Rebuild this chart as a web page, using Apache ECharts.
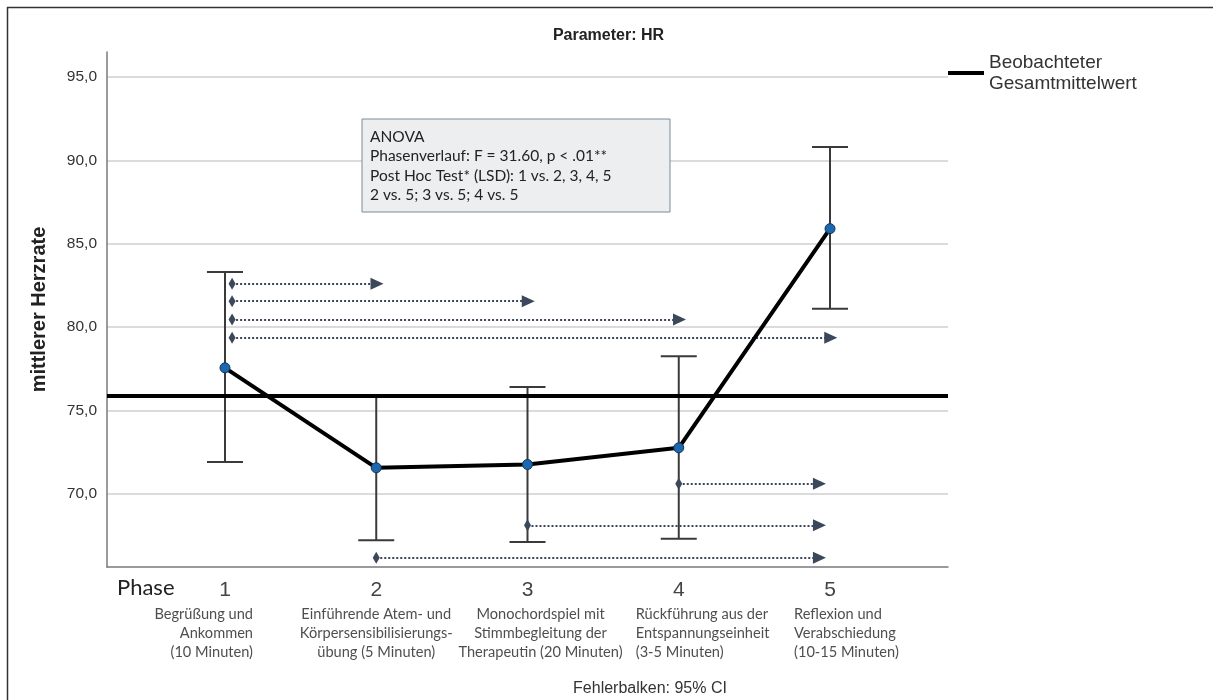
<!DOCTYPE html>
<html>
<head>
<meta charset="utf-8">
<script src="https://cdn.jsdelivr.net/npm/echarts@6/dist/echarts.min.js"></script>
<style>
html,body{margin:0;padding:0;background:#fff;}
#chart{width:1217px;height:700px;}
</style>
</head>
<body>
<div id="chart"></div>
<script>
// ---- data ----
const phases = [1, 2, 3, 4, 5];
const phaseDescriptions = [
  'Begrüßung und\nAnkommen\n(10 Minuten)',
  'Einführende Atem- und\nKörpersensibilisierungs-\nübung (5 Minuten)',
  'Monochordspiel mit\nStimmbegleitung der\nTherapeutin (20 Minuten)',
  'Rückführung aus der\nEntspannungseinheit\n(3-5 Minuten)',
  'Reflexion und\nVerabschiedung\n(10-15 Minuten)'
];
const means = [77.55, 71.55, 71.75, 72.75, 85.9];
const ciLower = [71.9, 67.2, 67.1, 67.3, 81.1];
const ciUpper = [83.3, 75.9, 76.4, 78.25, 90.8];
const grandMean = 75.9;
const yTicks = [70, 75, 80, 85, 90, 95];
const arrowFrom = [1, 1, 1, 1, 4, 3, 2];
const arrowTo = [2, 3, 4, 5, 5, 5, 5];
const arrowY = [82.6, 81.55, 80.45, 79.35, 70.6, 68.1, 66.15];
const annotationLines = [
  'ANOVA',
  'Phasenverlauf: F = 31.60, p < .01**',
  'Post Hoc Test* (LSD): 1 vs. 2, 3, 4, 5',
  '2 vs. 5; 3 vs. 5; 4 vs. 5'
];

// ---- layout/style helpers ----
const xMin = 0.22, xMax = 5.78, yMin = 65.6, yMax = 96.5;
const descAlign = ['right', 'center', 'center', 'left', 'left'];
const descOffset = [28, 0, 13, -43, -36];
const arrowColor = '#3b475a';

const chart = echarts.init(document.getElementById('chart'));

const arrowLines = arrowFrom.map((f, i) => {
  const upper = f === 1;
  return [
    { coord: [f + (upper ? 0.047 : 0), arrowY[i]], symbol: 'diamond', symbolSize: [12, 7] },
    { coord: [arrowTo[i] + (upper ? 0.005 : -0.07), arrowY[i]], symbol: 'triangle', symbolSize: [12, 13] }
  ];
});

const option = {
  animation: false,
  backgroundColor: '#fff',
  title: {
    text: 'Parameter: HR',
    left: 'center',
    top: 23,
    textStyle: { fontFamily: 'Liberation Sans', fontSize: 16, fontWeight: 'bold', color: '#222' }
  },
  legend: {
    data: ['Beobachteter Gesamtmittelwert'],
    left: 943,
    top: 47,
    icon: 'rect',
    itemWidth: 36,
    itemHeight: 4,
    itemGap: 5,
    formatter: () => 'Beobachteter\nGesamtmittelwert',
    textStyle: { fontFamily: 'Liberation Sans', fontSize: 19, color: '#333', lineHeight: 21 }
  },
  grid: { left: 107, right: 269, top: 52, bottom: 133 },
  xAxis: {
    type: 'value',
    min: xMin,
    max: xMax,
    axisLine: { show: true, lineStyle: { color: '#7a7a7a', width: 1.5 } },
    axisTick: { show: false, customValues: phases },
    splitLine: { show: false },
    axisLabel: {
      customValues: phases,
      formatter: v => String(v),
      fontFamily: 'Liberation Sans',
      fontSize: 21,
      color: '#444',
      margin: 13
    }
  },
  yAxis: {
    type: 'value',
    min: yMin,
    max: yMax,
    name: 'mittlerer Herzrate',
    nameLocation: 'middle',
    nameRotate: 90,
    nameGap: 58,
    nameTextStyle: { fontFamily: 'Liberation Sans', fontSize: 20, fontWeight: 'bold', color: '#222' },
    axisLine: { show: true, lineStyle: { color: '#7a7a7a', width: 1.5 } },
    axisTick: { show: false, customValues: yTicks },
    splitLine: { show: true, lineStyle: { color: '#cfcfcf', width: 1.5 } },
    axisLabel: {
      customValues: yTicks,
      formatter: v => v.toFixed(1).replace('.', ','),
      fontFamily: 'Liberation Sans',
      fontSize: 15.5,
      color: '#333',
      margin: 10
    }
  },
  series: [
    {
      name: 'Beobachteter Gesamtmittelwert',
      type: 'line',
      data: [],
      color: '#000',
      z: 5,
      markLine: {
        silent: true,
        z: 5,
        symbol: 'none',
        label: { show: false },
        lineStyle: { color: '#000', width: 4, type: 'solid' },
        data: [{ yAxis: grandMean }]
      }
    },
    {
      name: 'Vergleiche',
      type: 'line',
      data: [],
      z: 4,
      markLine: {
        silent: true,
        z: 4,
        symbol: ['diamond', 'triangle'],
        symbolSize: [10, 13],
        label: { show: false },
        lineStyle: { color: arrowColor, width: 2, type: 'dotted' },
        itemStyle: { color: arrowColor },
        data: arrowLines
      }
    },
    {
      name: 'CI',
      type: 'custom',
      data: phases.map((p, i) => [p, ciLower[i], ciUpper[i]]),
      renderItem: (params, api) => {
        const x = api.value(0);
        const lo = api.coord([x, api.value(1)]);
        const hi = api.coord([x, api.value(2)]);
        const hw = 18;
        const style = { stroke: '#3a3a3a', lineWidth: 2 };
        return {
          type: 'group',
          children: [
            { type: 'line', shape: { x1: lo[0], y1: lo[1], x2: hi[0], y2: hi[1] }, style },
            { type: 'line', shape: { x1: lo[0] - hw, y1: lo[1], x2: lo[0] + hw, y2: lo[1] }, style },
            { type: 'line', shape: { x1: hi[0] - hw, y1: hi[1], x2: hi[0] + hw, y2: hi[1] }, style }
          ]
        };
      },
      z: 3
    },
    {
      name: 'Mittelwert',
      type: 'line',
      data: phases.map((p, i) => [p, means[i]]),
      lineStyle: { color: '#000', width: 4 },
      symbol: 'circle',
      symbolSize: 10,
      itemStyle: { color: '#1f67ad', borderColor: '#0b3763', borderWidth: 1 },
      z: 6
    },
    {
      name: 'Beschreibung',
      type: 'scatter',
      clip: false,
      symbolSize: 0,
      silent: true,
      data: phases.map((p, i) => ({
        value: [p, yMin],
        label: { align: descAlign[i], offset: [descOffset[i], 0] }
      })),
      label: {
        show: true,
        position: [0, 38],
        verticalAlign: 'top',
        formatter: p => phaseDescriptions[p.dataIndex],
        fontFamily: 'Lato',
        fontSize: 14.6,
        lineHeight: 19,
        color: '#222'
      }
    }
  ],
  graphic: [
    { type: 'line', z: 100, shape: { x1: 7, y1: 7.5, x2: 1213, y2: 7.5 }, style: { stroke: '#333', lineWidth: 1.5 } },
    { type: 'line', z: 100, shape: { x1: 7.5, y1: 7, x2: 7.5, y2: 700 }, style: { stroke: '#333', lineWidth: 1.5 } },
    {
      type: 'text', left: 117, top: 577, z: 100,
      style: { text: 'Phase', fontFamily: 'Lato', fontSize: 22, fill: '#222' }
    },
    { type: 'rect', z: 100, shape: { x: 362, y: 119, width: 308, height: 93 }, style: { fill: '#eceef0', stroke: '#7d8a97', lineWidth: 1 } },
    { type: 'text', z: 101, x: 370, y: 127, style: { text: annotationLines.join('\n'), fontFamily: 'Lato', fontSize: 15.5, lineHeight: 19.5, fill: '#222' } },
    {
      type: 'text', x: 650, y: 689, z: 100,
      style: { text: 'Fehlerbalken: 95% CI', fontFamily: 'Liberation Sans', fontSize: 16, fill: '#333', align: 'center', verticalAlign: 'middle' }
    }
  ]
};
chart.setOption(option);
</script>
</body>
</html>
